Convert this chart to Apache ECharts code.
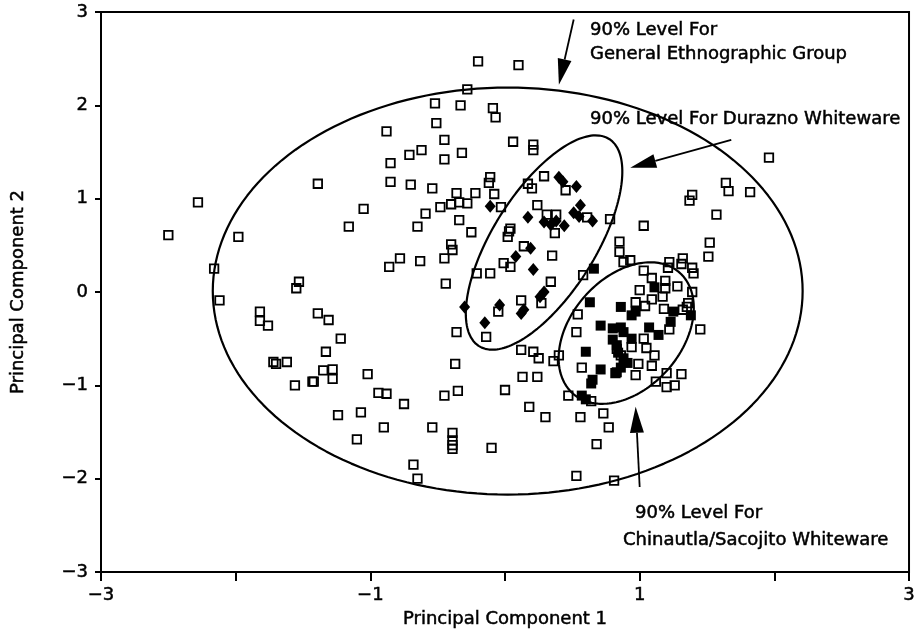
<!DOCTYPE html>
<html>
<head>
<meta charset="utf-8">
<script src="https://cdn.jsdelivr.net/npm/echarts/dist/echarts.min.js"></script>
<style>
  html, body { margin: 0; padding: 0; background: #fff; }
  #chart { width: 918px; height: 634px; }
</style>
</head>
<body>
<div id="chart"></div>
<script>
// Principal component scores (PC1, PC2)
const generalGroup = [
  [-2.50,0.61],[-2.28,0.96],[-1.98,0.59],[-2.16,0.25],[-2.12,-0.09],[-1.82,-0.21],[-1.82,-0.31],[-1.76,-0.36],
  [-1.55,0.04],[-1.53,0.11],[-1.39,-0.23],[-1.31,-0.30],[-1.39,1.16],[-1.16,0.70],[-1.05,0.89],
  [-1.22,-0.50],[-1.33,-0.64],[-1.72,-0.75],[-1.70,-0.77],[-1.62,-0.75],[-1.56,-1.00],[-1.43,-0.96],[-1.42,-0.96],
  [-1.35,-0.84],[-1.28,-0.83],[-1.28,-0.93],[-1.02,-0.88],[-0.94,-1.08],[-0.88,-1.09],[-0.75,-1.20],[-1.24,-1.32],
  [-1.07,-1.29],[-0.90,-1.45],[-1.10,-1.58],[-0.54,-1.45],[-0.39,-1.51],[-0.39,-1.59],[-0.39,-1.64],[-0.39,-1.68],
  [-0.36,-0.43],[-0.37,-0.77],[-0.45,-1.11],[-0.35,-1.06],[-0.68,-1.85],[-0.65,-2.00],[-0.44,0.09],
  [-0.20,2.47],[0.10,2.43],[-0.28,2.17],[-0.52,2.02],[-0.33,2.00],[-0.09,1.97],[-0.07,1.87],[-0.51,1.81],
  [-0.88,1.72],[-0.45,1.63],[0.06,1.61],[0.21,1.58],[0.21,1.52],[-0.32,1.49],[-0.71,1.47],[-0.62,1.52],
  [-0.85,1.38],[-0.45,1.42],[-0.85,1.18],[-0.70,1.15],[-0.54,1.11],[-0.11,1.23],[-0.12,1.17],[0.29,1.24],
  [0.17,1.16],[0.20,1.11],[-0.36,1.06],[-0.22,1.06],[-0.08,1.05],[-0.40,0.94],[-0.34,0.96],[-0.28,0.95],
  [-0.48,0.91],[-0.03,0.91],[0.24,0.93],[-0.59,0.84],[-0.34,0.77],[-0.65,0.70],[0.04,0.68],[0.38,0.83],
  [-0.25,0.64],[-0.78,0.36],[-0.86,0.27],[-0.63,0.33],[-0.40,0.51],[-0.39,0.45],[-0.45,0.36],[0.03,0.65],
  [0.02,0.59],[0.14,0.49],[0.35,0.39],[-0.01,0.31],[0.04,0.27],[-0.21,0.20],[-0.11,0.20],[0.34,0.11],
  [0.12,-0.09],[0.27,-0.12],[-0.05,-0.21],[-0.14,-0.48],[0.58,0.18],[0.54,-0.24],[0.53,-0.43],[0.12,-0.62],
  [0.21,-0.64],[0.31,0.83],[0.37,0.63],[0.78,0.78],[0.85,0.54],[0.85,0.43],
  [0.45,1.09],[0.61,0.80],[1.03,0.71],[1.39,1.04],[1.37,0.98],[1.57,0.83],[1.52,0.53],[1.51,0.38],
  [0.88,0.32],[0.93,0.34],[1.03,0.23],[1.09,0.15],[1.19,0.12],[1.22,0.32],[1.21,0.26],[1.32,0.36],
  [1.31,0.30],[1.39,0.26],[1.40,0.20],[1.28,0.06],[1.00,0.02],[1.19,0.04],[1.17,-0.05],[1.09,-0.08],
  [1.39,0.00],[0.97,-0.11],[1.04,-0.15],[1.18,-0.18],[1.35,-0.16],[1.45,-0.40],[1.22,-0.40],[1.03,-0.50],
  [1.05,-0.60],[0.94,-0.59],[0.83,-0.61],[0.86,-0.68],[1.11,-0.68],[1.96,1.44],[1.64,1.17],[1.66,1.08],
  [1.82,1.07],[1.36,-0.12],[1.32,-0.19],
  [0.99,-0.77],[1.09,-0.79],[0.57,-0.81],[0.97,-0.89],[0.82,-0.87],[1.20,-0.87],[1.31,-0.88],[1.12,-0.96],
  [1.20,-1.02],[1.26,-1.00],[0.47,-1.11],[0.64,-1.17],[0.56,-1.34],[0.73,-1.30],[0.77,-1.45],[0.25,-0.71],
  [0.40,-0.68],[0.36,-0.74],[0.13,-0.91],[0.24,-0.91],[0.00,-1.05],[0.18,-1.23],[0.30,-1.34],[-0.10,-1.67],
  [0.68,-1.63],[0.53,-1.97],[0.81,-2.02]
];

const duraznoWhiteware = [
  [-0.11,0.92],[0.17,0.80],[0.29,0.75],[0.34,0.72],[0.38,0.76],[0.44,0.71],[0.40,1.23],[0.43,1.18],
  [0.53,1.13],[0.56,0.93],[0.51,0.85],[0.55,0.81],[0.65,0.76],[0.19,0.47],[0.08,0.38],[0.21,0.24],
  [0.29,0.00],[0.26,-0.05],[-0.04,-0.14],[0.14,-0.19],[0.12,-0.23],[-0.30,-0.16],[-0.15,-0.33]
];

const chinautlaWhiteware = [
  [0.66,0.25],[0.63,-0.11],[0.86,-0.16],[0.97,-0.21],[0.94,-0.25],[1.11,0.05],[1.25,-0.21],[1.23,-0.32],
  [1.38,-0.25],[0.71,-0.36],[0.80,-0.39],[0.86,-0.38],[0.88,-0.43],[0.80,-0.51],[0.83,-0.57],[0.94,-0.50],
  [1.07,-0.38],[1.14,-0.46],[0.60,-0.64],[0.84,-0.65],[0.88,-0.71],[0.91,-0.76],[0.86,-0.81],[0.83,-0.86],
  [0.71,-0.83],[0.65,-0.94],[0.64,-0.98],[0.57,-1.11],[0.60,-1.15]
];

// 90% confidence ellipses: [centre PC1, centre PC2, semi-major, semi-minor, angle in degrees]
const generalEllipse = [0.02, 0.01, 2.19, 2.18, 0];
const duraznoEllipse = [0.29, 0.53, 1.22, 0.41, 69];
const chinautlaEllipse = [0.90, -0.44, 0.79, 0.45, 70];

const xLabelValues = [-3, -1, 1, 3];

const FONT = '"DejaVu Sans", sans-serif';
// a thin outline gives the lettering a pen-plotter weight
const INK = { textBorderColor: '#000', textBorderWidth: 0.5 };

function ellipseOutline(p) {
  const [cx, cy, a, b, deg] = p;
  const th = deg * Math.PI / 180;
  const pts = [];
  for (let i = 0; i <= 180; i++) {
    const t = i / 180 * 2 * Math.PI;
    pts.push([
      cx + a * Math.cos(t) * Math.cos(th) - b * Math.sin(t) * Math.sin(th),
      cy + a * Math.cos(t) * Math.sin(th) + b * Math.sin(t) * Math.cos(th)
    ]);
  }
  return pts;
}

function fmtNum(v) {
  return v < 0 ? '\u2212' + Math.abs(v) : String(v);
}

const chart = echarts.init(document.getElementById('chart'), null, { renderer: 'canvas' });

function ellipseSeries(p) {
  return {
    type: 'line',
    data: ellipseOutline(p),
    showSymbol: false,
    silent: true,
    smooth: false,
    lineStyle: { color: '#000', width: 2.2, opacity: 1 },
    z: 2
  };
}

chart.setOption({
  animation: false,
  backgroundColor: '#fff',
  grid: {
    left: 101, right: 6, top: 12, bottom: 62,
    show: true, borderColor: '#000', borderWidth: 2, backgroundColor: 'transparent'
  },
  xAxis: {
    type: 'value', min: -3, max: 3, interval: 1,
    name: 'Principal Component 1', nameLocation: 'middle', nameGap: 38,
    nameTextStyle: Object.assign({ color: '#000', fontSize: 18, fontFamily: FONT }, INK),
    axisLine: { onZero: false, lineStyle: { color: '#000', width: 2 } },
    axisTick: { inside: false, length: 9, lineStyle: { color: '#000', width: 2 } },
    axisLabel: Object.assign({
      color: '#000', fontSize: 18, fontFamily: FONT, margin: 14,
      formatter: v => xLabelValues.includes(v) ? fmtNum(v) : ''
    }, INK),
    splitLine: { show: false }
  },
  yAxis: {
    type: 'value', min: -3, max: 3, interval: 1,
    name: 'Principal Component 2', nameLocation: 'middle', nameGap: 74, nameRotate: 90,
    nameTextStyle: Object.assign({ color: '#000', fontSize: 18, fontFamily: FONT }, INK),
    axisLine: { onZero: false, lineStyle: { color: '#000', width: 2 } },
    axisTick: { inside: false, length: 6, lineStyle: { color: '#000', width: 2 } },
    axisLabel: Object.assign({ color: '#000', fontSize: 18, fontFamily: FONT, margin: 13, formatter: v => fmtNum(v) }, INK),
    splitLine: { show: false }
  },
  series: [
    ellipseSeries(generalEllipse),
    ellipseSeries(duraznoEllipse),
    ellipseSeries(chinautlaEllipse),
    {
      name: 'General Ethnographic Group', type: 'scatter', data: generalGroup,
      symbol: 'rect', symbolSize: 8.5, z: 3,
      itemStyle: { color: 'rgba(0,0,0,0)', borderColor: '#000', borderWidth: 1.8, opacity: 1 }
    },
    {
      name: 'Durazno Whiteware', type: 'scatter', data: duraznoWhiteware,
      symbol: 'diamond', symbolSize: [11, 13], z: 4,
      itemStyle: { color: '#000', opacity: 1 }
    },
    {
      name: 'Chinautla/Sacojito Whiteware', type: 'scatter', data: chinautlaWhiteware,
      symbol: 'rect', symbolSize: 10, z: 4,
      itemStyle: { color: '#000', opacity: 1 }
    }
  ]
});

// Annotation arrows, anchored in data coordinates
const arrowGeneral = [[0.51, 2.92], [0.40, 2.22]];
const arrowDurazno = [[1.68, 1.63], [0.93, 1.33]];
const arrowChinautla = [[1.00, -2.09], [0.97, -1.23]];

function arrow(seg) {
  const a = chart.convertToPixel({ gridIndex: 0 }, seg[0]);
  const b = chart.convertToPixel({ gridIndex: 0 }, seg[1]);
  const dx = b[0] - a[0], dy = b[1] - a[1];
  const L = Math.hypot(dx, dy), ux = dx / L, uy = dy / L;
  const hl = 26, hw = 7;
  const base = [b[0] - ux * hl, b[1] - uy * hl];
  return [
    { type: 'line', shape: { x1: a[0], y1: a[1], x2: base[0], y2: base[1] },
      style: { stroke: '#000', lineWidth: 1.8 }, z: 10 },
    { type: 'polygon',
      shape: { points: [b, [base[0] - uy * hw, base[1] + ux * hw], [base[0] + uy * hw, base[1] - ux * hw]] },
      style: { fill: '#000' }, z: 10 }
  ];
}

function label(text, x, y) {
  return {
    type: 'text', x: x, y: y, z: 10,
    style: {
      text: text, fill: '#000', font: '18px ' + FONT, align: 'left', verticalAlign: 'middle',
      stroke: '#000', lineWidth: 0.5
    }
  };
}

chart.setOption({
  graphic: [].concat(
    arrow(arrowGeneral),
    arrow(arrowDurazno),
    arrow(arrowChinautla),
    [
      label('90% Level For', 590, 30),
      label('General Ethnographic Group', 590, 54),
      label('90% Level For Durazno Whiteware', 590, 119),
      label('90% Level For', 635, 513),
      label('Chinautla/Sacojito Whiteware', 623, 540)
    ]
  )
});
</script>
</body>
</html>
